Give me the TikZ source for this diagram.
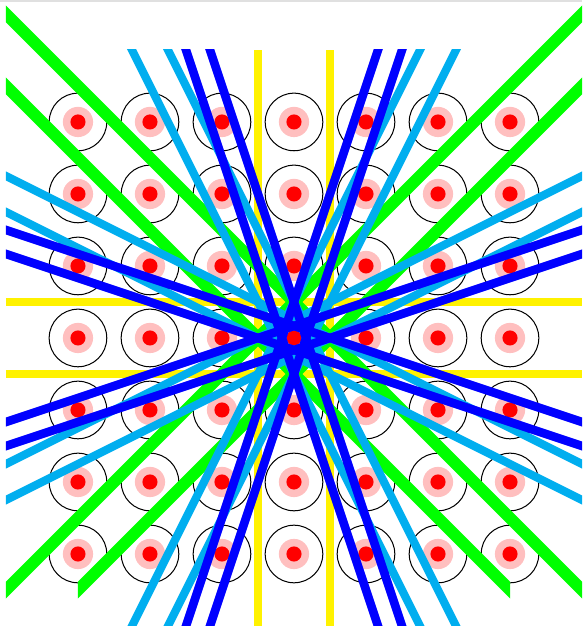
\documentclass[tikz,border=0pt]{standalone}
\usepackage{tikz}
\usepackage{xcolor}
\definecolor{planecyan}{HTML}{00AEEF}
\definecolor{planeyellow}{HTML}{FFF200}

\begin{document}
\begin{tikzpicture}[line cap=butt]
  \useasboundingbox (-4.083,-4) rectangle (4,4.694);
  \fill[black!12] (-4.083,4.664) rectangle (4,4.694);
  \begin{scope}
    \clip (-4,-4) rectangle (4,4.65);
    % lattice
    \foreach \i in {1,...,7}
      \foreach \j in {1,...,7} {
        \node[circle, draw=black, line width=0.4pt, minimum size=0.8cm, inner sep=0pt] (a\i\j) at (\i-4,\j-4) {};
        \node[circle, fill=red!25, minimum size=0.42cm, inner sep=0pt] (h\i\j) at (a\i\j) {};
        \node[circle, fill=red, minimum size=0.21cm, inner sep=0pt] (r\i\j) at (a\i\j) {};
      }
    % (1,0) and (0,1)
    \foreach \s in {-0.5,0.5} {
      \draw[planeyellow, line width=3.2pt] (\s,-4) -- (\s,4);
      \draw[planeyellow, line width=3.2pt] (-4,\s) -- (4,\s);
    }
    % (1,1)
    \draw[green, line width=4.7pt] (-4.5,-4) -- (4.5,5);
    \draw[green, line width=4.7pt] (-4.5,5) -- (4.5,-4);
    \begin{scope}
      \clip (-3,-5) rectangle (5,5);
      \draw[green, line width=4.7pt] (-3.5,-4) -- (5,4.5);
    \end{scope}
    \begin{scope}
      \clip (-5,-5) rectangle (3,5);
      \draw[green, line width=4.7pt] (-5,4.5) -- (3.5,-4);
    \end{scope}
    \begin{scope}
      \clip (-4,-4) rectangle (4,4);
      % (1,2)
      \foreach \s in {-0.25,0.25} {
        \draw[planecyan, line width=3.2pt] (\s-2.25,-4.5) -- (\s+2.25,4.5);
        \draw[planecyan, line width=3.2pt] (\s+2.25,-4.5) -- (\s-2.25,4.5);
        \draw[planecyan, line width=3.2pt] (-4.5,\s-2.25) -- (4.5,\s+2.25);
        \draw[planecyan, line width=3.2pt] (-4.5,\s+2.25) -- (4.5,\s-2.25);
      }
      % (1,3)
      \foreach \s in {-0.1667,0.1667} {
        \draw[blue, line width=3.4pt] (\s-1.5,-4.5) -- (\s+1.5,4.5);
        \draw[blue, line width=3.4pt] (\s+1.5,-4.5) -- (\s-1.5,4.5);
        \draw[blue, line width=3.4pt] (-4.5,\s-1.5) -- (4.5,\s+1.5);
        \draw[blue, line width=3.4pt] (-4.5,\s+1.5) -- (4.5,\s-1.5);
      }
    \end{scope}
  \end{scope}
\end{tikzpicture}
\end{document}
